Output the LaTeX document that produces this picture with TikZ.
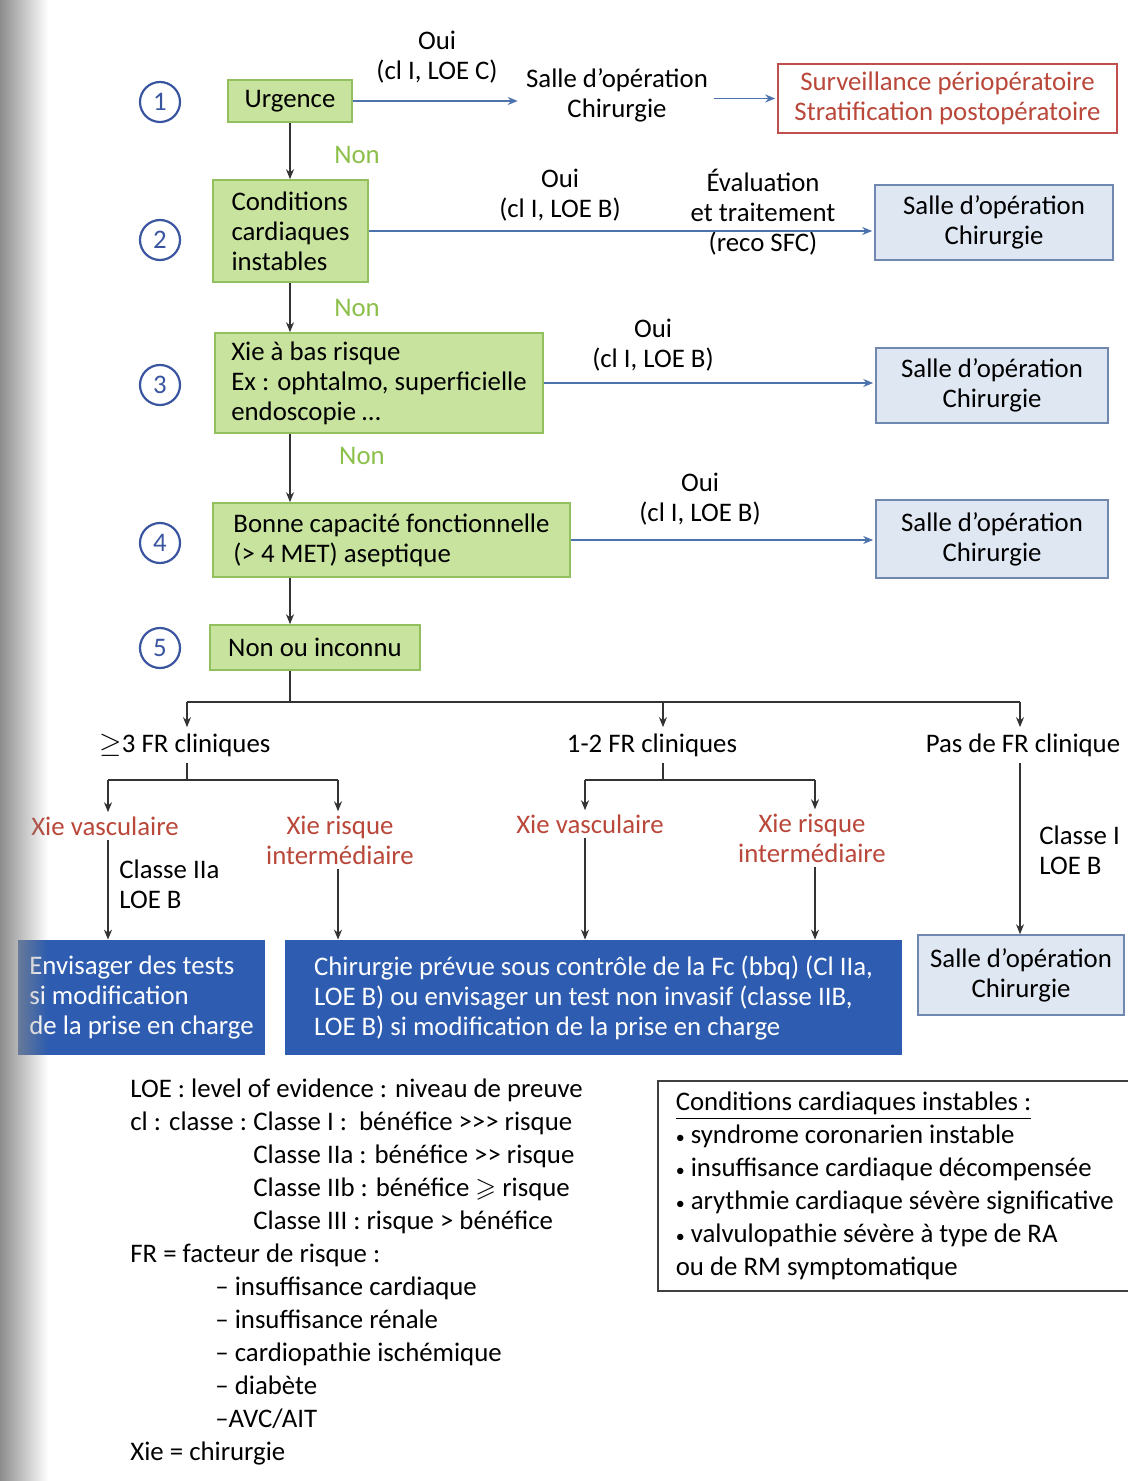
\documentclass[tikz,border=0pt]{standalone}
\usepackage{amssymb}
\usepackage{fontspec}
\setmainfont{Carlito}
\usetikzlibrary{arrows.meta,fadings}

\definecolor{boxgreen}{HTML}{C8E39E}
\definecolor{linegreen}{HTML}{93C05E}
\definecolor{nongreen}{HTML}{8CBF4A}
\definecolor{paleblue}{HTML}{DFE7F3}
\definecolor{lineblue}{HTML}{7088B0}
\definecolor{darkblue}{HTML}{2D5CB0}
\definecolor{arrowblue}{HTML}{4D73AD}
\definecolor{circblue}{HTML}{3A55A0}
\definecolor{redtext}{HTML}{B9473A}
\definecolor{redline}{HTML}{C0504D}

\tikzstyle{gbox}=[draw=linegreen, fill=boxgreen, line width=0.8pt, align=left, inner sep=4pt]
\tikzstyle{lbox}=[draw=lineblue, fill=paleblue, line width=0.8pt, align=center]
\tikzstyle{dbox}=[fill=darkblue, text=white, align=left]
\tikzstyle{rbox}=[draw=redline, fill=white, text=redtext, line width=0.8pt, align=center]
\tikzstyle{numc}=[circle, draw=circblue, text=circblue, line width=1.1pt, minimum size=20pt, inner sep=0pt]
\tikzstyle{txt}=[align=center, inner sep=3pt]
\tikzstyle{red-txt}=[align=center, text=redtext, inner sep=2pt]
\tikzstyle{non-txt}=[text=nongreen]
\tikzstyle{harrow}=[draw=arrowblue, line width=0.9pt, shorten >=1pt, -{Stealth[length=5pt,width=4pt]}]
\tikzstyle{varrow}=[draw=black!80, line width=0.7pt, -{Stealth[length=5pt,width=4pt]}]
\tikzstyle{vline}=[draw=black!80, line width=0.7pt]

\begin{document}
\begin{tikzpicture}[x=0.5pt, y=-0.5pt, font=\fontsize{13.4}{15}\selectfont]
  \useasboundingbox (0,0) rectangle (1128,1481);

  % numbered steps
  \foreach \k/\y in {1/102, 2/240, 3/385, 4/543, 5/648} {
    \node[numc] (n\k) at (160,\y) {\k};
  }

  % decision column
  \node[gbox, minimum width=62pt, minimum height=21pt] (urg) at (290,101) {Urgence};
  \node[gbox, minimum width=77.5pt, minimum height=51pt] (cond) at (290.5,231) {Conditions\\cardiaques\\instables};
  \node[gbox, minimum width=164pt, minimum height=50pt] (xie) at (379,383) {Xie à bas risque\\Ex : ophtalmo, superficielle\\endoscopie \ldots};
  \node[gbox, minimum width=178.5pt, minimum height=37pt] (cap) at (391.5,540) {Bonne capacité fonctionnelle\\(> 4 MET) aseptique};
  \node[gbox, minimum width=105pt, minimum height=22.5pt] (inc) at (315,647.5) {Non ou inconnu};

  \node[non-txt] (nonA) at (357,155) {Non};
  \node[non-txt] (nonB) at (357,308) {Non};
  \node[non-txt] (nonC) at (362,456) {Non};

  % row 1
  \node[txt] (oui1) at (437,57) {Oui\\(cl I, LOE C)};
  \node[txt] (salle1) at (617,95) {Salle d’opération\\Chirurgie};
  \node[rbox, minimum width=169.5pt, minimum height=34.5pt] (surv) at (947.5,98.5) {Surveillance périopératoire\\Stratification postopératoire};

  % rows 2 to 4
  \node[txt] (oui2) at (560,195) {Oui\\(cl I, LOE B)};
  \node[txt] (eval) at (763,212) {Évaluation\\et traitement\\(reco SFC)};
  \node[lbox, minimum width=119pt, minimum height=37.5pt] (salle2) at (994,222.5) {Salle d’opération\\Chirurgie};
  \node[txt] (oui3) at (653,345) {Oui\\(cl I, LOE B)};
  \node[lbox, minimum width=116pt, minimum height=37.5pt] (salle3) at (992,385.5) {Salle d’opération\\Chirurgie};
  \node[txt] (oui4) at (700,499) {Oui\\(cl I, LOE B)};
  \node[lbox, minimum width=116pt, minimum height=39pt] (salle4) at (992,539) {Salle d’opération\\Chirurgie};

  \draw[harrow] (urg.east) -- (urg.east -| salle1.west);
  \draw[harrow] (salle1.east |- surv.west) -- (surv.west);
  \foreach \src/\dst in {cond/salle2, xie/salle3, cap/salle4} {
    \draw[harrow] (\src.east) -- (\src.east -| \dst.west);
  }
  \foreach \a/\b in {urg/cond, cond/xie, xie/cap, cap/inc} {
    \draw[varrow] (urg.south |- \a.south) -- (urg.south |- \b.north);
  }

  % risk factor branches
  \node[txt] (fr3) at (185,745) {$\geq$3 FR cliniques};
  \node[txt] (fr12) at (652,745) {1-2 FR cliniques};
  \node[txt] (fr0) at (1023,745) {Pas de FR clinique};

  \coordinate (s0) at (290,702);
  \coordinate (b1) at (187,702);
  \coordinate (b2) at (663,702);
  \coordinate (b3) at (1020,702);
  \coordinate (c1) at (187,780);
  \coordinate (c1l) at (108,780);
  \coordinate (c1r) at (338,780);
  \coordinate (c2) at (663,780);
  \coordinate (c2l) at (585,780);
  \coordinate (c2r) at (815,780);

  \draw[vline] (urg.south |- inc.south) -- (s0);
  \draw[vline] (b1) -- (b3);
  \foreach \c/\n in {b1/fr3, b2/fr12, b3/fr0} {
    \draw[varrow] (\c) -- (\c |- \n.north);
  }

  \node[red-txt] (vasc1) at (105,826) {Xie vasculaire};
  \node[red-txt] (risq1) at (340,840) {Xie risque\\intermédiaire};
  \node[red-txt] (vasc2) at (590,824) {Xie vasculaire};
  \node[red-txt] (risq2) at (812,838) {Xie risque\\intermédiaire};

  \draw[vline] (b1 |- fr3.south) -- (c1);
  \draw[vline] (c1l) -- (c1r);
  \draw[vline] (b2 |- fr12.south) -- (c2);
  \draw[vline] (c2l) -- (c2r);
  \foreach \c/\n in {c1l/vasc1, c1r/risq1, c2l/vasc2, c2r/risq2} {
    \draw[varrow] (\c) -- (\c |- \n.north);
  }

  \node[txt, anchor=west, align=left] (cl2a) at (113,884) {Classe IIa\\LOE B};
  \node[txt, anchor=west, align=left] (cl1) at (1033,850) {Classe I\\LOE B};

  % outcomes
  \node[dbox, minimum width=123.5pt, minimum height=57.5pt] (left) at (141.5,997.5) {Envisager des tests\\si modification\\de la prise en charge};
  \node[dbox, minimum width=308.5pt, minimum height=57.5pt] (mid) at (593.5,997.5) {Chirurgie prévue sous contrôle de la Fc (bbq) (Cl IIa,\\LOE B) ou envisager un test non invasif (classe IIB,\\LOE B) si modification de la prise en charge};
  \node[lbox, minimum width=103pt, minimum height=40pt] (salle5) at (1021,975) {Salle d’opération\\Chirurgie};

  \draw[varrow] (c1l |- vasc1.south) -- (c1l |- left.north);
  \foreach \c/\n in {c1r/risq1, c2l/vasc2, c2r/risq2} {
    \draw[varrow] (\c |- \n.south) -- (\c |- mid.north);
  }
  \draw[varrow] (b3 |- fr0.south) -- (b3 |- salle5.north);

  % legend
  \node[anchor=north west, align=left, inner sep=0pt, font=\fontsize{13.4}{16.5}\selectfont] (legend) at (130,1078) {%
    LOE : level of evidence : niveau de preuve\\
    \makebox[61.5pt][l]{cl : classe :}Classe I :\ \ bénéfice >{}>{}> risque\\
    \hspace*{61.5pt}Classe IIa : bénéfice >{}> risque\\
    \hspace*{61.5pt}Classe IIb : bénéfice $\geqslant$ risque\\
    \hspace*{61.5pt}Classe III : risque > bénéfice\\
    FR = facteur de risque :\\
    \hspace*{42.5pt}– insuffisance cardiaque\\
    \hspace*{42.5pt}– insuffisance rénale\\
    \hspace*{42.5pt}– cardiopathie ischémique\\
    \hspace*{42.5pt}– diabète\\
    \hspace*{42.5pt}–AVC/AIT\\
    Xie = chirurgie};

  \node[draw=black!75, line width=0.8pt, anchor=north west, minimum width=234.5pt, minimum height=105pt, align=left, inner xsep=9pt, font=\fontsize{13.4}{16.5}\selectfont] (unst) at (657,1080) {%
    \underline{Conditions cardiaques instables :}\\
    {\small•} syndrome coronarien instable\\
    {\small•} insuffisance cardiaque décompensée\\
    {\small•} arythmie cardiaque sévère significative\\
    {\small•} valvulopathie sévère à type de RA\\
    ou de RM symptomatique};

  % scan shadow on the left edge
  \fill[black!45, path fading=east] (0,0) rectangle (48,1481);
\end{tikzpicture}
\end{document}
